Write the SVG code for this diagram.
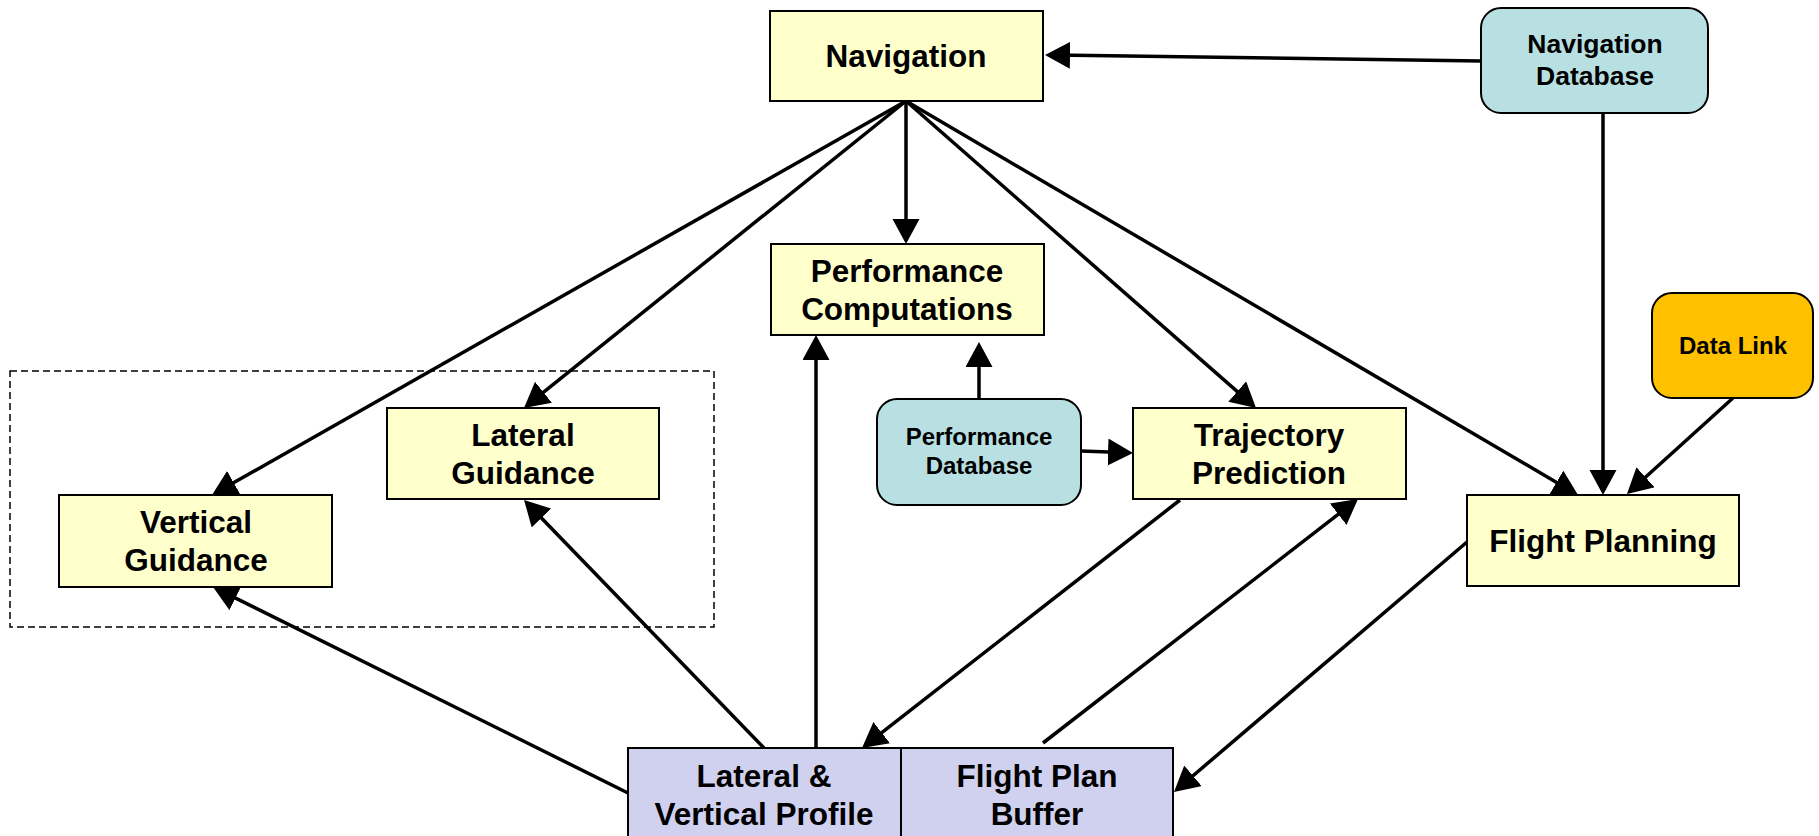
<svg xmlns="http://www.w3.org/2000/svg" width="1819" height="836" viewBox="0 0 1819 836">
  <style>
    .box { stroke: #000; stroke-width: 2; }
    .proc { fill: #FFFFCC; }
    .db { fill: #B8DFE2; }
    .link { fill: #FFC000; }
    .buf { fill: #D0D0EF; }
    .t { font-family: "Liberation Sans", Arial, sans-serif; font-weight: bold; fill: #000; text-anchor: middle; }
    .big { font-size: 31.5px; }
    .mid { font-size: 26.5px; }
    .small { font-size: 24px; }
    .wire { stroke: #000; stroke-width: 3.5; fill: none; marker-end: url(#arrow); }
  </style>
  <defs>
    <marker id="arrow" markerUnits="userSpaceOnUse" markerWidth="28" markerHeight="28" refX="15" refY="13.5" orient="auto">
      <path d="M0,0 L25,13.5 L0,27 z" fill="#000"/>
    </marker>
  </defs>

  <rect width="1819" height="836" fill="#fff"/>

  <!-- guidance grouping frame -->
  <rect id="guidance-frame" x="10" y="371" width="704" height="256" fill="none" stroke="#000" stroke-width="1.5" stroke-dasharray="7,4"/>

  <g id="connectors">
    <line class="wire" x1="1481" y1="61" x2="1055" y2="55.1"/>
    <line class="wire" x1="906" y1="101" x2="906" y2="234"/>
    <line class="wire" x1="906" y1="101" x2="220.7" y2="490.1"/>
    <line class="wire" x1="906" y1="101" x2="531.8" y2="401.7"/>
    <line class="wire" x1="906" y1="101" x2="1248.5" y2="401.4"/>
    <line class="wire" x1="906" y1="101" x2="1569.4" y2="489.9"/>
    <line class="wire" x1="1603" y1="113" x2="1603" y2="485"/>
    <line class="wire" x1="1733" y1="398" x2="1634.4" y2="487.3"/>
    <line class="wire" x1="1467" y1="542" x2="1181.6" y2="785.5"/>
    <line class="wire" x1="1180" y1="500" x2="869.9" y2="741.9"/>
    <line class="wire" x1="1043" y1="743" x2="1350.1" y2="505.1"/>
    <line class="wire" x1="764" y1="748" x2="531" y2="507.2"/>
    <line class="wire" x1="816" y1="748" x2="816" y2="345"/>
    <line class="wire" x1="628" y1="793" x2="222" y2="591.4"/>
    <line class="wire" x1="979" y1="399" x2="979" y2="352"/>
    <line class="wire" x1="1081" y1="451" x2="1123" y2="452.6"/>
  </g>

  <g id="navigation">
    <rect class="box proc" x="770" y="11" width="273" height="90"/>
    <text class="t big" x="906" y="67">Navigation</text>
  </g>

  <g id="navigation-database">
    <rect class="box db" x="1481" y="8" width="227" height="105" rx="20"/>
    <text class="t mid" x="1595" y="53">Navigation</text>
    <text class="t mid" x="1595" y="85">Database</text>
  </g>

  <g id="performance-computations">
    <rect class="box proc" x="771" y="244" width="273" height="91"/>
    <text class="t big" x="907" y="282">Performance</text>
    <text class="t big" x="907" y="320">Computations</text>
  </g>

  <g id="performance-database">
    <rect class="box db" x="877" y="399" width="204" height="106" rx="20"/>
    <text class="t small" x="979" y="445">Performance</text>
    <text class="t small" x="979" y="474">Database</text>
  </g>

  <g id="trajectory-prediction">
    <rect class="box proc" x="1133" y="408" width="273" height="91"/>
    <text class="t big" x="1269" y="446">Trajectory</text>
    <text class="t big" x="1269" y="484">Prediction</text>
  </g>

  <g id="data-link">
    <rect class="box link" x="1652" y="293" width="161" height="105" rx="20"/>
    <text class="t small" x="1733" y="354">Data Link</text>
  </g>

  <g id="flight-planning">
    <rect class="box proc" x="1467" y="495" width="272" height="91"/>
    <text class="t big" x="1603" y="552">Flight Planning</text>
  </g>

  <g id="lateral-guidance">
    <rect class="box proc" x="387" y="408" width="272" height="91"/>
    <text class="t big" x="523" y="446">Lateral</text>
    <text class="t big" x="523" y="484">Guidance</text>
  </g>

  <g id="vertical-guidance">
    <rect class="box proc" x="59" y="495" width="273" height="92"/>
    <text class="t big" x="196" y="533">Vertical</text>
    <text class="t big" x="196" y="571">Guidance</text>
  </g>

  <g id="lateral-vertical-profile">
    <rect class="box buf" x="628" y="748" width="273" height="110"/>
    <text class="t big" x="764" y="787">Lateral &amp;</text>
    <text class="t big" x="764" y="825">Vertical Profile</text>
  </g>

  <g id="flight-plan-buffer">
    <rect class="box buf" x="901" y="748" width="272" height="110"/>
    <text class="t big" x="1037" y="787">Flight Plan</text>
    <text class="t big" x="1037" y="825">Buffer</text>
  </g>
</svg>
